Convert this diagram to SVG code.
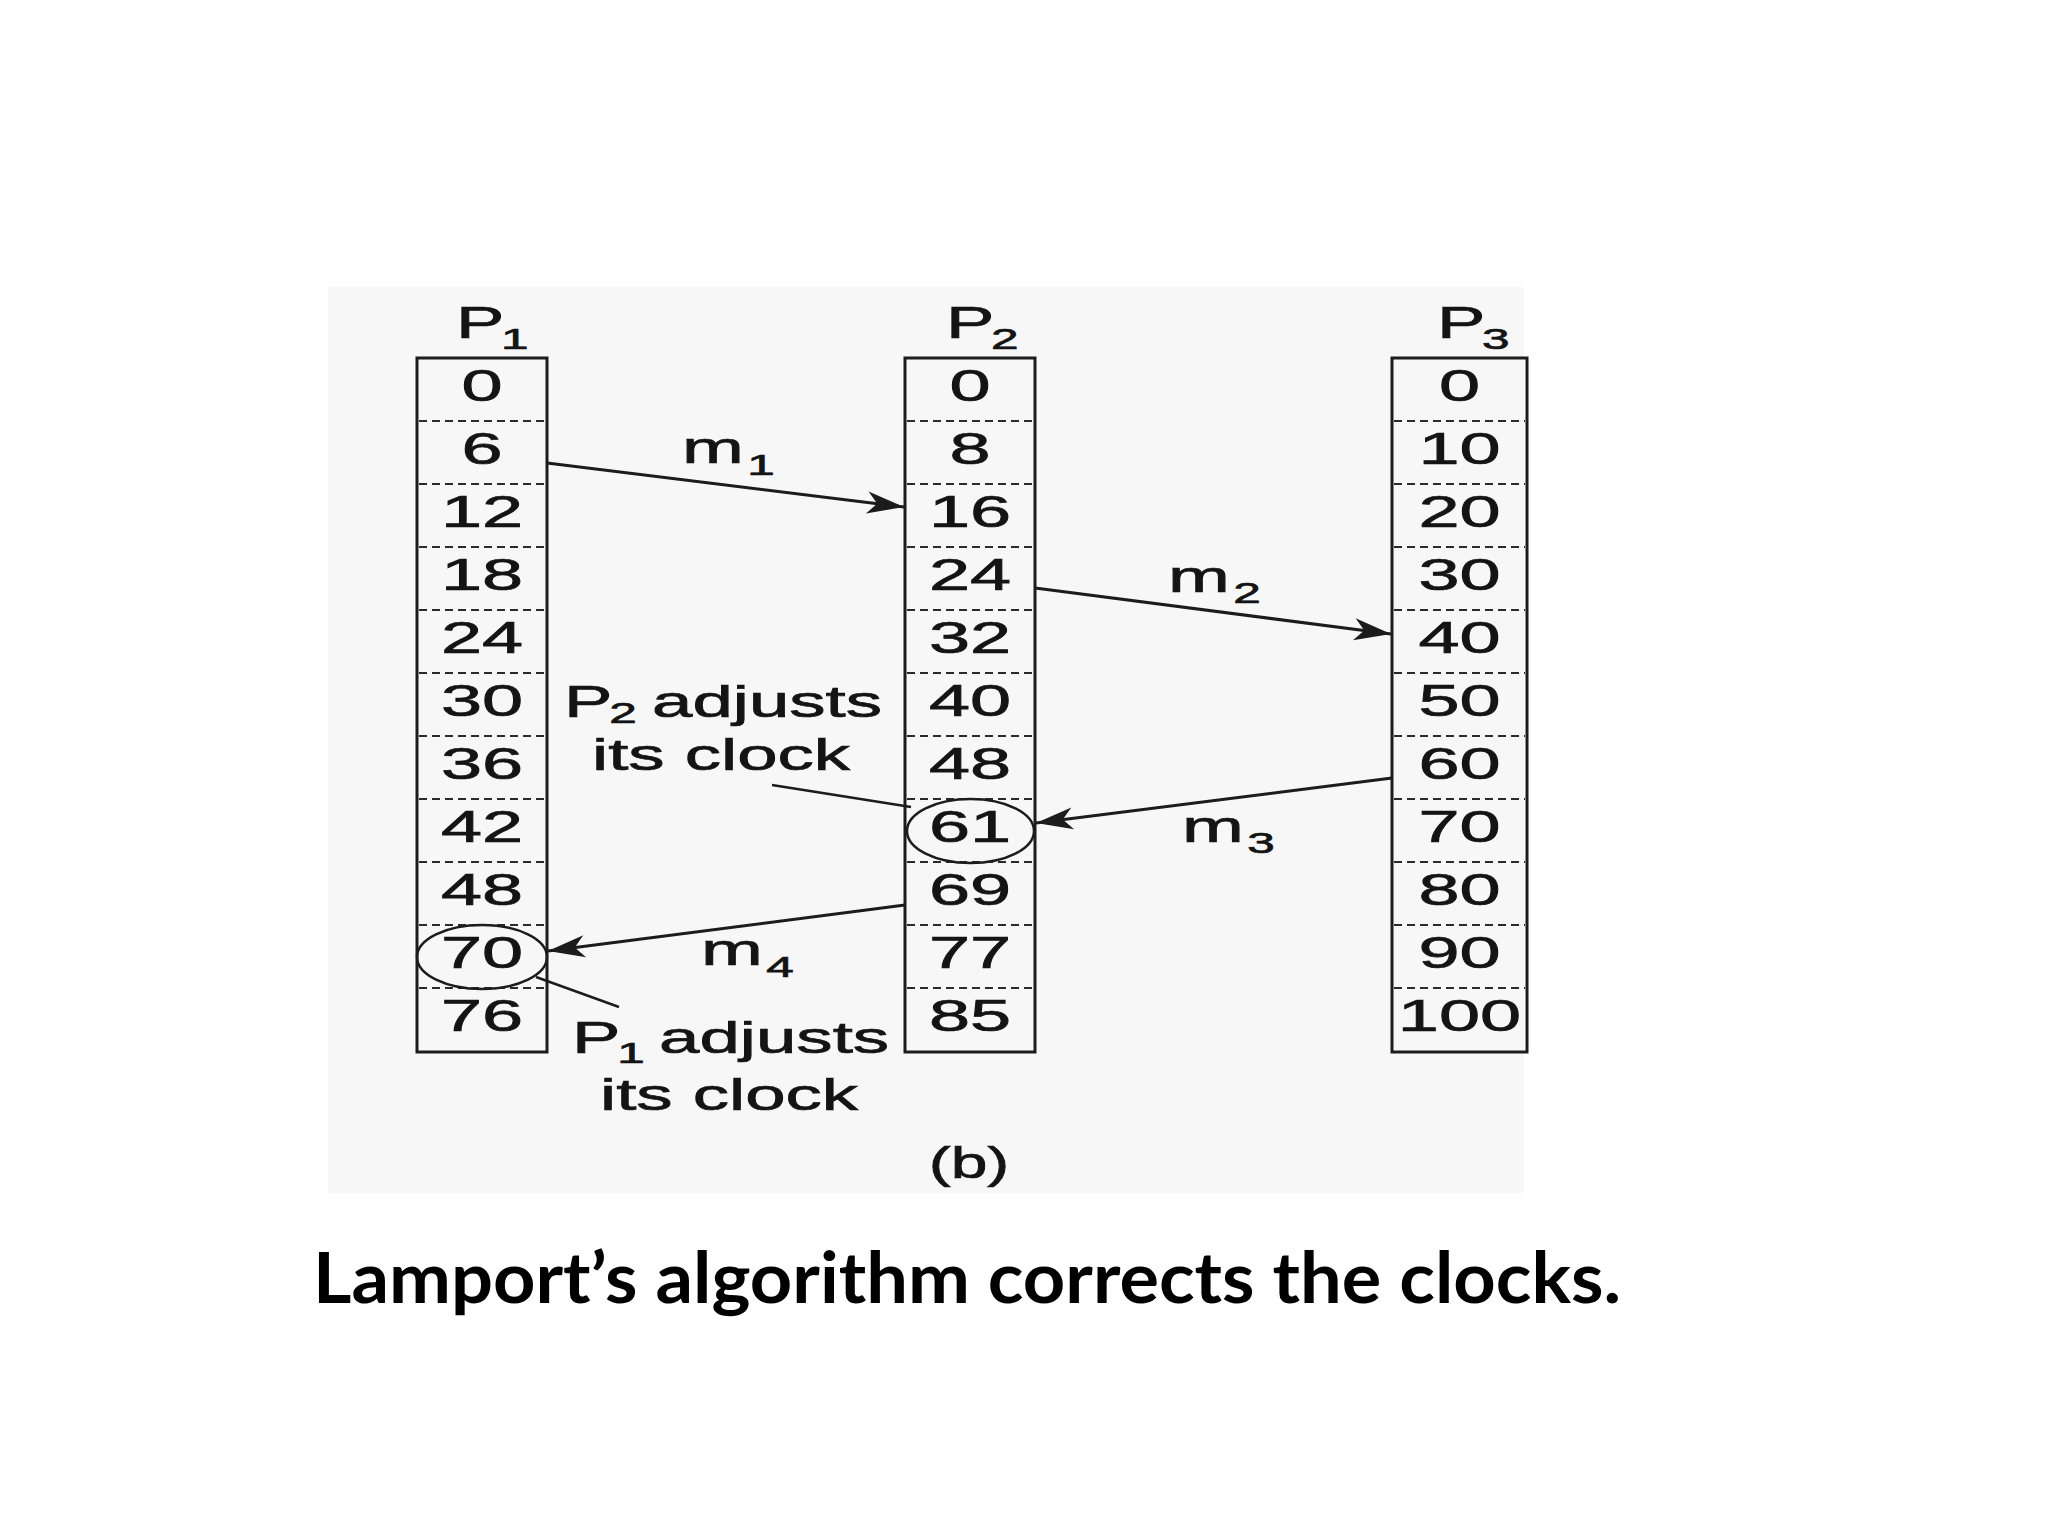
<svg xmlns="http://www.w3.org/2000/svg" width="2048" height="1536" viewBox="0 0 2048 1536">
<style>
.box{fill:none;stroke:#1c1c1c;stroke-width:3}
.dash{stroke:#2a2a2a;stroke-width:2.2;stroke-dasharray:8 5}
.t{font-family:"Liberation Sans",Arial,Helvetica,sans-serif;font-size:44px;fill:#141414;stroke:#141414;stroke-width:0.7}
.num{text-anchor:middle}
.sub{font-size:30px}
.msg{font-size:45px}
.conn{fill:none;stroke:#1c1c1c;stroke-width:3}
.lead{fill:none;stroke:#1c1c1c;stroke-width:2.4}
.ring{fill:none;stroke:#1c1c1c;stroke-width:2.5}
.title{font-family:Lato,"Open Sans","Liberation Sans",sans-serif;font-weight:bold;font-size:70px;fill:#000}
</style>
<defs>
<marker id="arr" markerUnits="userSpaceOnUse" viewBox="-40 -14 42 28" refX="0" refY="0" markerWidth="42" markerHeight="28" orient="auto">
<path d="M0,0 L-37,-11 L-27,0 L-37,11 Z" fill="#1c1c1c"/>
</marker>
</defs>
<rect x="0" y="0" width="2048" height="1536" fill="#ffffff"/>
<rect x="328" y="287" width="1196" height="906" fill="#f7f7f7"/>

<g id="p1">
<text class="t" transform="translate(456,338) scale(1.65,1)">P<tspan class="sub" dx="-2" dy="11">1</tspan></text>
<rect class="box" x="417" y="358" width="130" height="694"/>
<path class="dash" d="M419,421H545M419,484H545M419,547H545M419,610H545M419,673H545M419,736H545M419,799H545M419,862H545M419,925H545M419,988H545"/>
<text class="t num" transform="translate(482,401) scale(1.68,1)">0</text>
<text class="t num" transform="translate(482,464) scale(1.68,1)">6</text>
<text class="t num" transform="translate(482,527) scale(1.68,1)">12</text>
<text class="t num" transform="translate(482,590) scale(1.68,1)">18</text>
<text class="t num" transform="translate(482,653) scale(1.68,1)">24</text>
<text class="t num" transform="translate(482,716) scale(1.68,1)">30</text>
<text class="t num" transform="translate(482,779) scale(1.68,1)">36</text>
<text class="t num" transform="translate(482,842) scale(1.68,1)">42</text>
<text class="t num" transform="translate(482,905) scale(1.68,1)">48</text>
<text class="t num" transform="translate(482,968) scale(1.68,1)">70</text>
<text class="t num" transform="translate(482,1031) scale(1.68,1)">76</text>
<ellipse class="ring" cx="482" cy="957" rx="65" ry="32"/>
</g>

<g id="p2">
<text class="t" transform="translate(946,338) scale(1.65,1)">P<tspan class="sub" dx="-2" dy="11">2</tspan></text>
<rect class="box" x="905" y="358" width="130" height="694"/>
<path class="dash" d="M907,421H1033M907,484H1033M907,547H1033M907,610H1033M907,673H1033M907,736H1033M907,799H1033M907,862H1033M907,925H1033M907,988H1033"/>
<text class="t num" transform="translate(970,401) scale(1.68,1)">0</text>
<text class="t num" transform="translate(970,464) scale(1.68,1)">8</text>
<text class="t num" transform="translate(970,527) scale(1.68,1)">16</text>
<text class="t num" transform="translate(970,590) scale(1.68,1)">24</text>
<text class="t num" transform="translate(970,653) scale(1.68,1)">32</text>
<text class="t num" transform="translate(970,716) scale(1.68,1)">40</text>
<text class="t num" transform="translate(970,779) scale(1.68,1)">48</text>
<text class="t num" transform="translate(970,842) scale(1.68,1)">61</text>
<text class="t num" transform="translate(970,905) scale(1.68,1)">69</text>
<text class="t num" transform="translate(970,968) scale(1.68,1)">77</text>
<text class="t num" transform="translate(970,1031) scale(1.68,1)">85</text>
<ellipse class="ring" cx="970.5" cy="831" rx="63.5" ry="32"/>
</g>

<g id="p3">
<text class="t" transform="translate(1437,338) scale(1.65,1)">P<tspan class="sub" dx="-2" dy="11">3</tspan></text>
<rect class="box" x="1392" y="358" width="135" height="694"/>
<path class="dash" d="M1394,421H1525M1394,484H1525M1394,547H1525M1394,610H1525M1394,673H1525M1394,736H1525M1394,799H1525M1394,862H1525M1394,925H1525M1394,988H1525"/>
<text class="t num" transform="translate(1459.5,401) scale(1.68,1)">0</text>
<text class="t num" transform="translate(1459.5,464) scale(1.68,1)">10</text>
<text class="t num" transform="translate(1459.5,527) scale(1.68,1)">20</text>
<text class="t num" transform="translate(1459.5,590) scale(1.68,1)">30</text>
<text class="t num" transform="translate(1459.5,653) scale(1.68,1)">40</text>
<text class="t num" transform="translate(1459.5,716) scale(1.68,1)">50</text>
<text class="t num" transform="translate(1459.5,779) scale(1.68,1)">60</text>
<text class="t num" transform="translate(1459.5,842) scale(1.68,1)">70</text>
<text class="t num" transform="translate(1459.5,905) scale(1.68,1)">80</text>
<text class="t num" transform="translate(1459.5,968) scale(1.68,1)">90</text>
<text class="t num" transform="translate(1459.5,1031) scale(1.68,1)">100</text>
</g>

<g id="connectors">
<line class="conn" x1="547" y1="463" x2="904" y2="507" marker-end="url(#arr)"/>
<line class="conn" x1="1035" y1="588" x2="1391" y2="634" marker-end="url(#arr)"/>
<line class="conn" x1="1392" y1="778" x2="1036" y2="823" marker-end="url(#arr)"/>
<line class="conn" x1="905" y1="905" x2="548" y2="951" marker-end="url(#arr)"/>
<line class="lead" x1="772" y1="785" x2="911" y2="807"/>
<line class="lead" x1="536" y1="977" x2="619" y2="1007"/>
</g>

<g id="labels">
<text class="t msg" transform="translate(682,463) scale(1.65,1)">m<tspan class="sub" dx="2" dy="12">1</tspan></text>
<text class="t msg" transform="translate(1168,592) scale(1.65,1)">m<tspan class="sub" dx="2" dy="11">2</tspan></text>
<text class="t msg" transform="translate(1182,842) scale(1.65,1)">m<tspan class="sub" dx="2" dy="11">3</tspan></text>
<text class="t msg" transform="translate(701,965) scale(1.65,1)">m<tspan class="sub" dx="2" dy="12">4</tspan></text>
<g id="note-p2">
<text class="t" transform="translate(564,717) scale(1.65,1)">P<tspan class="sub" x="27.5" dy="6">2</tspan><tspan x="53.4" dy="-6">adjusts</tspan></text>
<text class="t" transform="translate(592,770) scale(1.65,1)">its clock</text>
</g>
<g id="note-p1">
<text class="t" transform="translate(572,1053) scale(1.65,1)">P<tspan class="sub" x="27.5" dy="10">1</tspan><tspan x="52.8" dy="-10">adjusts</tspan></text>
<text class="t" transform="translate(600,1110) scale(1.65,1)">its clock</text>
</g>
<text class="t num" transform="translate(969,1178) scale(1.5,1)">(b)</text>
</g>

<text class="title" x="313" y="1303" textLength="1308" lengthAdjust="spacingAndGlyphs">Lamport’s algorithm corrects the clocks.</text>
</svg>
